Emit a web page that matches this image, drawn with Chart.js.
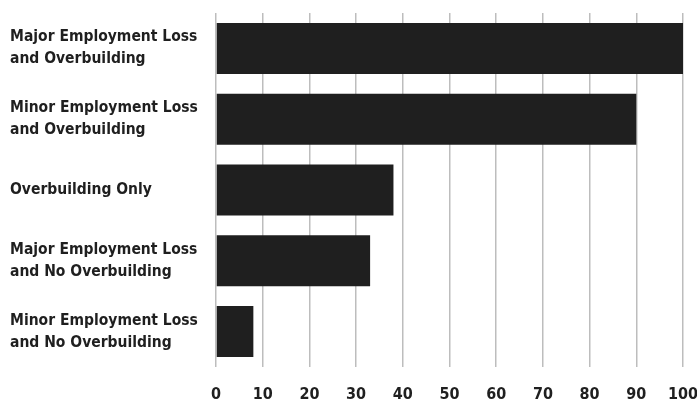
<!DOCTYPE html>
<html>
<head>
<meta charset="utf-8">
<script src="https://cdn.jsdelivr.net/npm/chart.js@4"></script>
<style>
  html, body { margin: 0; padding: 0; background: #fff; }
  #wrap { width: 697px; height: 405px; }
</style>
</head>
<body>
<div id="wrap"><canvas id="myChart"></canvas></div>
<script>
// categories (two-line labels) and values
let categories = [
    ['Major Employment Loss', 'and Overbuilding'],
    ['Minor Employment Loss', 'and Overbuilding'],
    ['Overbuilding Only'],
    ['Major Employment Loss', 'and No Overbuilding'],
    ['Minor Employment Loss', 'and No Overbuilding']
];
let values = [100, 90, 38, 33, 8];
let xMin = 0;
let xMax = 100;
let xStep = 10;

let fontFamily = '"Liberation Sans Narrow", "DejaVu Sans Condensed", "Arial Narrow", sans-serif';

let chartData = {
    type: 'bar',
    data: {
        labels: categories,
        datasets: [{
            data: values,
            backgroundColor: '#1f1f1f',
            borderWidth: 0,
            barPercentage: 0.72,
            categoryPercentage: 1.0
        }]
    },
    options: {
        indexAxis: 'y',
        responsive: true,
        maintainAspectRatio: false,
        animation: false,
        layout: { padding: { left: 10, right: 0, top: 13, bottom: 1 } },
        plugins: {
            legend: { display: false },
            tooltip: { enabled: false }
        },
        scales: {
            x: {
                min: xMin,
                max: xMax,
                afterFit: function (scale) {
                    scale.height = 37;
                    scale.paddingLeft = 0;
                    scale.paddingRight = 14;
                },
                ticks: {
                    stepSize: xStep,
                    color: '#1f1f1f',
                    padding: 18,
                    font: { family: fontFamily, size: 16, weight: 'bold' }
                },
                grid: {
                    color: '#bdbdbd',
                    lineWidth: 1.5,
                    drawTicks: false
                },
                border: { display: false }
            },
            y: {
                afterFit: function (scale) {
                    scale.width = 206;
                    scale.paddingTop = 0;
                    scale.paddingBottom = 0;
                },
                ticks: {
                    crossAlign: 'far',
                    color: '#1f1f1f',
                    font: { family: fontFamily, size: 15.5, weight: 'bold', lineHeight: 1.42 }
                },
                grid: { display: false },
                border: { display: false }
            }
        }
    }
};

let ctx = document.getElementById('myChart').getContext('2d');
let myChart = new Chart(ctx, chartData);
</script>
</body>
</html>
